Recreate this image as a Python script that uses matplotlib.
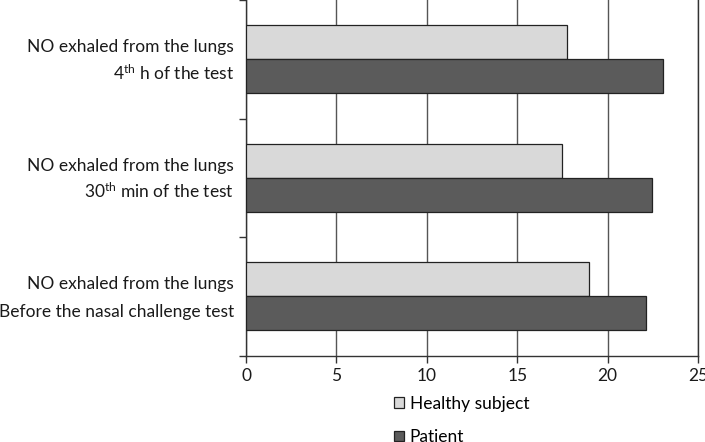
import matplotlib
matplotlib.use("Agg")
import matplotlib.pyplot as plt
import matplotlib.transforms as mtransforms
import numpy as np
from matplotlib.patches import Patch

FONT = 'Lato'
plt.rcParams['font.family'] = [FONT, 'DejaVu Sans']
plt.rcParams['mathtext.fontset'] = 'custom'
plt.rcParams['mathtext.rm'] = FONT
plt.rcParams['mathtext.it'] = FONT

label_line1 = ["NO exhaled from the lungs"] * 3
label_line2 = [
    "Before the nasal challenge test",
    "30$^{\\mathrm{th}}$ min of the test",
    "4$^{\\mathrm{th}}$ h of the test",
]
healthy = [18.96, 17.5, 17.75]
patient = [22.15, 22.48, 23.08]
series_names = ["Healthy subject", "Patient"]
xticks = [0, 5, 10, 15, 20, 25]

fig = plt.figure(figsize=(7.05, 4.42), dpi=100)
ax = fig.add_axes([246/705, 1-355.5/442, (698-246)/705, 355.5/442])

y = np.arange(len(label_line1))
h = 0.288
ax.barh(y + h/2, healthy, height=h, color='#d9d9d9', edgecolor='#222222', linewidth=0.9, zorder=3, label=series_names[0])
ax.barh(y - h/2, patient, height=h, color='#5b5b5b', edgecolor='#222222', linewidth=0.9, zorder=3, label=series_names[1])

ax.set_xlim(0, 25)
ax.set_ylim(-0.5, len(label_line1) - 0.5)
ax.set_xticks(xticks)
ax.set_xticklabels([str(t) for t in xticks], fontsize=12.5, color='#1a1a1a')
ax.xaxis.grid(True, color='#555555', linewidth=1.0, zorder=0)
ax.set_axisbelow(True)

ax.set_yticks([])
ax.set_yticks(np.arange(-0.5, len(label_line1), 1.0), minor=True)
ax.tick_params(axis='y', which='minor', length=5, width=1, color='#333333')
ax.tick_params(axis='x', length=5, width=1, color='#333333', pad=4)

trans = mtransforms.blended_transform_factory(ax.transAxes, ax.transData)
px = 0.72  # points per pixel
for yi, l1, l2 in zip(y, label_line1, label_line2):
    ax.annotate(l1, xy=(0, yi), xycoords=trans, xytext=(-12*px, 7*px), textcoords='offset points',
                ha='right', va='baseline', fontsize=12.5, color='#1a1a1a')
    ax.annotate(l2, xy=(0, yi), xycoords=trans, xytext=(-12*px, -20.7*px), textcoords='offset points',
                ha='right', va='baseline', fontsize=12.5, color='#1a1a1a')

for s in ['left', 'bottom', 'right']:
    ax.spines[s].set_color('#333333')
    ax.spines[s].set_linewidth(1.0)
ax.spines['top'].set_visible(False)

handles = [Patch(facecolor='#d9d9d9', edgecolor='#222222', linewidth=0.9),
           Patch(facecolor='#5b5b5b', edgecolor='#222222', linewidth=0.9)]
fig.legend(handles, series_names, loc='upper left', bbox_to_anchor=(385/705, 1-387/442),
           frameon=False, fontsize=12.5, handlelength=0.58, handleheight=0.58,
           handletextpad=0.35, labelspacing=1.0, borderpad=0)

fig.savefig("out.png", dpi=100)
